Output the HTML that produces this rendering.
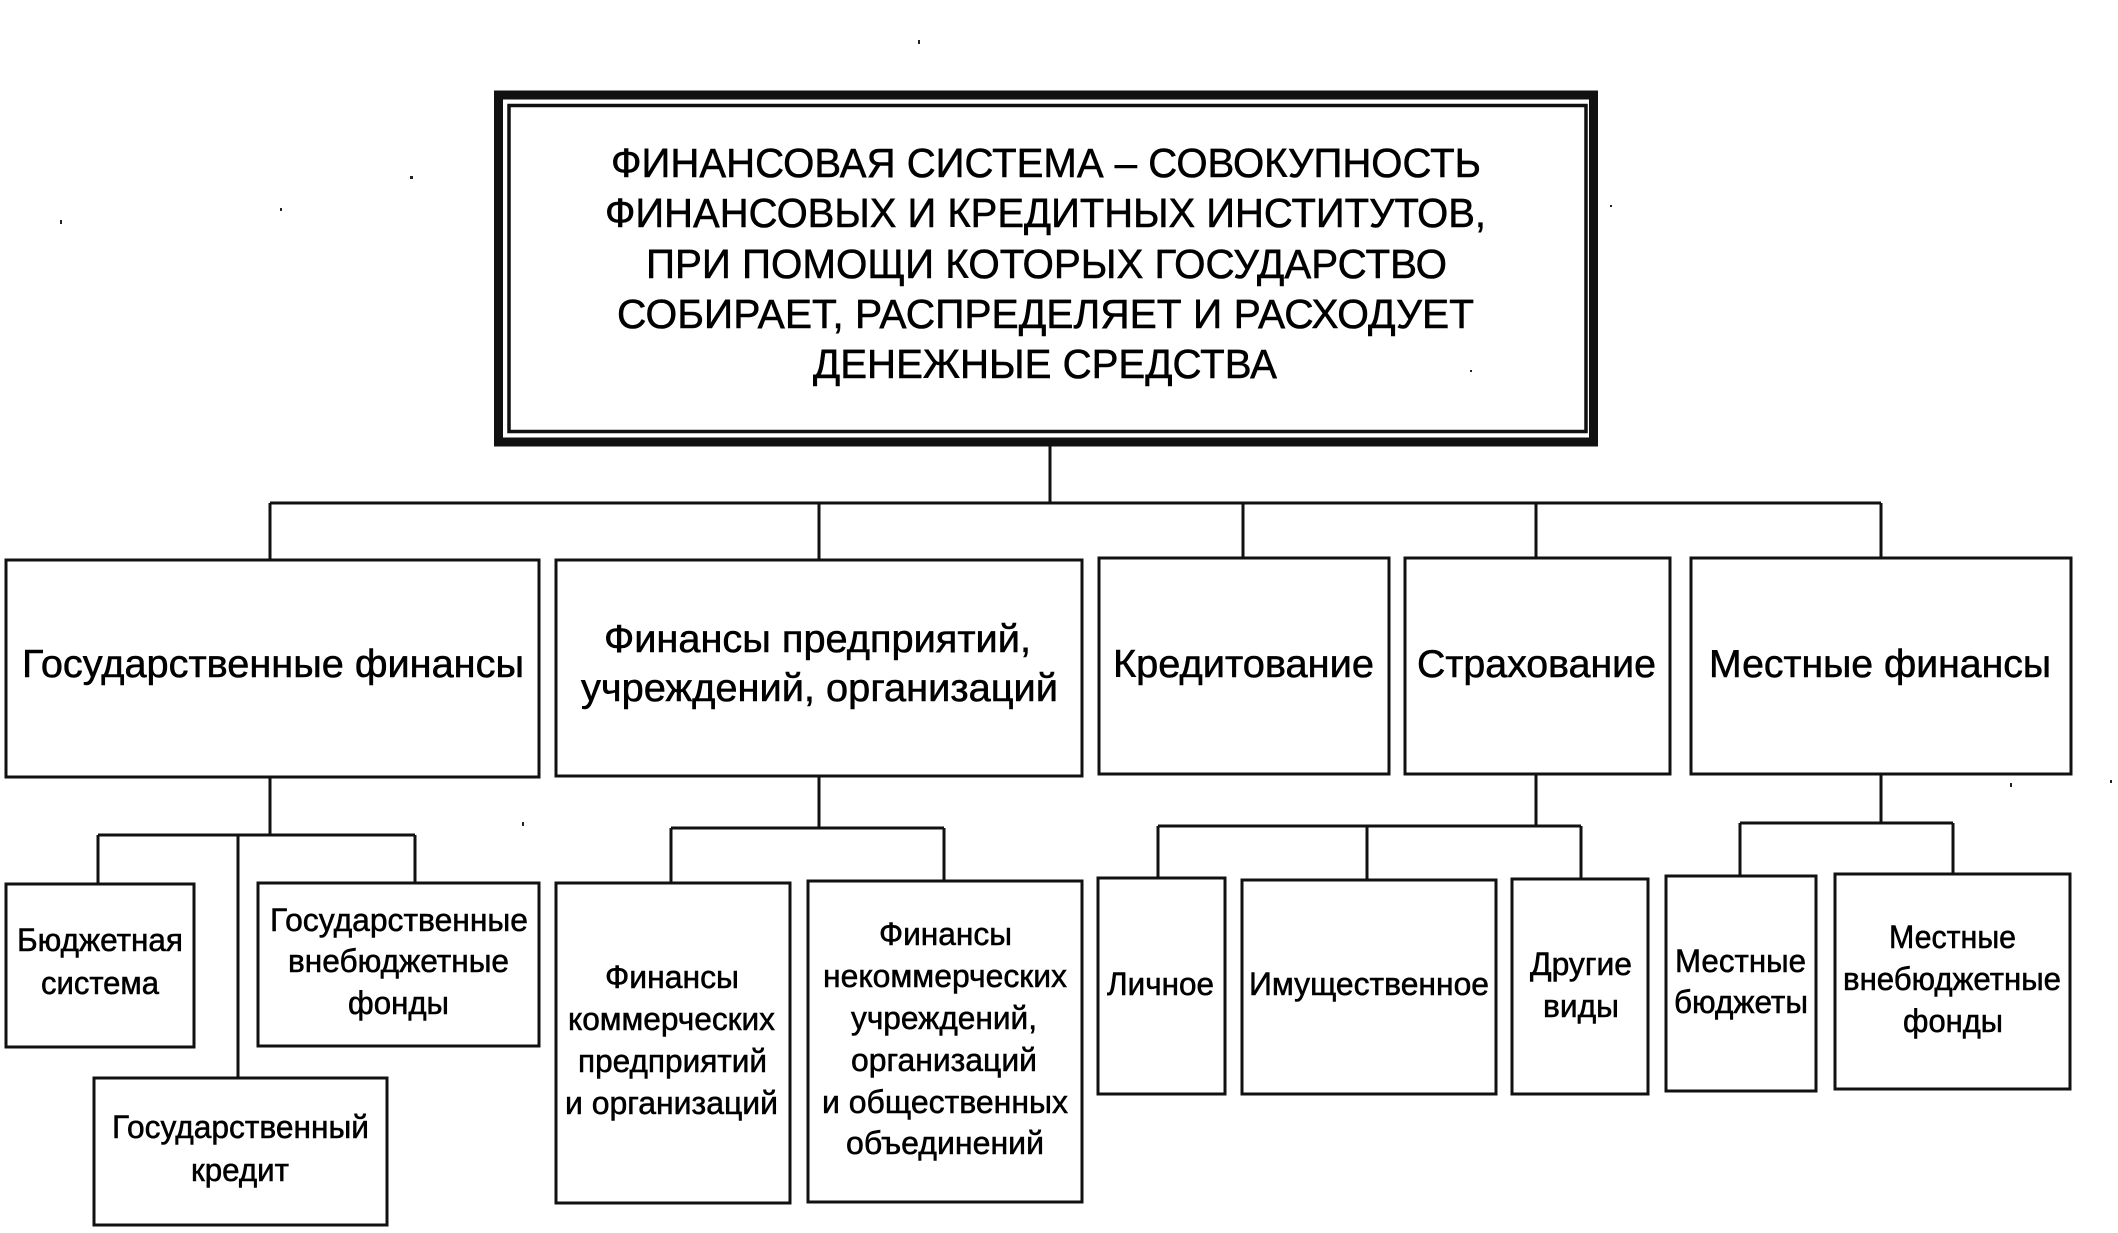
<!DOCTYPE html>
<html lang="ru"><head><meta charset="utf-8"><title>Финансовая система</title>
<style>
html,body{margin:0;padding:0;background:#fff;width:2118px;height:1233px;overflow:hidden}
svg{display:block}
text{font-family:"Liberation Sans",sans-serif;fill:#000;stroke:#000;stroke-width:.55}
.a{font-size:41px}.b{font-size:39px}.c{font-size:32px}
.r{fill:#fff;stroke:#111;stroke-width:3}
.l{fill:none;stroke:#111;stroke-width:3}
</style></head><body>
<svg width="2118" height="1233" viewBox="0 0 2118 1233" xmlns="http://www.w3.org/2000/svg">
<rect x="498.5" y="95" width="1095" height="347" fill="#fff" stroke="#111" stroke-width="9"/>
<rect x="509" y="105.5" width="1077" height="326" fill="#fff" stroke="#111" stroke-width="3.5"/>
<path class="l" d="M1050 446V503M270 503H1881M270 503V559M819 503V559M1243 503V557M1536 503V557M1881 503V557"/>
<path class="l" d="M270 777V835M98 835H415M98 835V883M415 835V882M238 835V1077"/>
<path class="l" d="M819 775V828M671 828H944M671 828V882M944 828V880"/>
<path class="l" d="M1536 774V826M1158 826H1581M1158 826V877M1367 826V879M1581 826V878"/>
<path class="l" d="M1881 774V823M1740 823H1953M1740 823V875M1953 823V873"/>
<g>
<rect class="r" x="6" y="560" width="533" height="217"/>
<rect class="r" x="556" y="560" width="526" height="216"/>
<rect class="r" x="1099" y="558" width="290" height="216"/>
<rect class="r" x="1405" y="558" width="265" height="216"/>
<rect class="r" x="1691" y="558" width="380" height="216"/>
<rect class="r" x="6" y="884" width="188" height="163"/>
<rect class="r" x="258" y="883" width="281" height="163"/>
<rect class="r" x="94" y="1078" width="293" height="147"/>
<rect class="r" x="556" y="883" width="234" height="320"/>
<rect class="r" x="808" y="881" width="274" height="321"/>
<rect class="r" x="1098" y="878" width="127" height="216"/>
<rect class="r" x="1242" y="880" width="254" height="214"/>
<rect class="r" x="1512" y="879" width="136" height="215"/>
<rect class="r" x="1666" y="876" width="150" height="215"/>
<rect class="r" x="1835" y="874" width="235" height="215"/>
</g>
<text class="a" x="611" y="177" textLength="870" lengthAdjust="spacingAndGlyphs">ФИНАНСОВАЯ СИСТЕМА – СОВОКУПНОСТЬ</text>
<text class="a" x="605" y="227" textLength="881" lengthAdjust="spacingAndGlyphs">ФИНАНСОВЫХ И КРЕДИТНЫХ ИНСТИТУТОВ,</text>
<text class="a" x="646" y="278" textLength="801" lengthAdjust="spacingAndGlyphs">ПРИ ПОМОЩИ КОТОРЫХ ГОСУДАРСТВО</text>
<text class="a" x="617" y="328" textLength="857" lengthAdjust="spacingAndGlyphs">СОБИРАЕТ, РАСПРЕДЕЛЯЕТ И РАСХОДУЕТ</text>
<text class="a" x="813" y="378" textLength="464" lengthAdjust="spacingAndGlyphs">ДЕНЕЖНЫЕ СРЕДСТВА</text>
<text class="b" x="22" y="677" textLength="502" lengthAdjust="spacingAndGlyphs">Государственные финансы</text>
<text class="b" x="604" y="652" textLength="427" lengthAdjust="spacingAndGlyphs">Финансы предприятий,</text>
<text class="b" x="581" y="701" textLength="477" lengthAdjust="spacingAndGlyphs">учреждений, организаций</text>
<text class="b" x="1113" y="677" textLength="261" lengthAdjust="spacingAndGlyphs">Кредитование</text>
<text class="b" x="1417" y="677" textLength="239" lengthAdjust="spacingAndGlyphs">Страхование</text>
<text class="b" x="1709" y="677" textLength="342" lengthAdjust="spacingAndGlyphs">Местные финансы</text>
<text class="c" x="17" y="951" textLength="166" lengthAdjust="spacingAndGlyphs">Бюджетная</text>
<text class="c" x="41" y="994" textLength="118" lengthAdjust="spacingAndGlyphs">система</text>
<text class="c" x="270" y="931" textLength="258" lengthAdjust="spacingAndGlyphs">Государственные</text>
<text class="c" x="288" y="972" textLength="221" lengthAdjust="spacingAndGlyphs">внебюджетные</text>
<text class="c" x="348" y="1014" textLength="101" lengthAdjust="spacingAndGlyphs">фонды</text>
<text class="c" x="112" y="1138" textLength="257" lengthAdjust="spacingAndGlyphs">Государственный</text>
<text class="c" x="191" y="1181" textLength="98" lengthAdjust="spacingAndGlyphs">кредит</text>
<text class="c" x="605" y="988" textLength="134" lengthAdjust="spacingAndGlyphs">Финансы</text>
<text class="c" x="568" y="1030" textLength="207" lengthAdjust="spacingAndGlyphs">коммерческих</text>
<text class="c" x="578" y="1072" textLength="189" lengthAdjust="spacingAndGlyphs">предприятий</text>
<text class="c" x="565" y="1114" textLength="213" lengthAdjust="spacingAndGlyphs">и организаций</text>
<text class="c" x="879" y="945" textLength="133" lengthAdjust="spacingAndGlyphs">Финансы</text>
<text class="c" x="823" y="987" textLength="244" lengthAdjust="spacingAndGlyphs">некоммерческих</text>
<text class="c" x="851" y="1029" textLength="186" lengthAdjust="spacingAndGlyphs">учреждений,</text>
<text class="c" x="851" y="1071" textLength="186" lengthAdjust="spacingAndGlyphs">организаций</text>
<text class="c" x="822" y="1113" textLength="246" lengthAdjust="spacingAndGlyphs">и общественных</text>
<text class="c" x="846" y="1154" textLength="198" lengthAdjust="spacingAndGlyphs">объединений</text>
<text class="c" x="1107" y="995" textLength="107" lengthAdjust="spacingAndGlyphs">Личное</text>
<text class="c" x="1249" y="995" textLength="240" lengthAdjust="spacingAndGlyphs">Имущественное</text>
<text class="c" x="1530" y="975" textLength="102" lengthAdjust="spacingAndGlyphs">Другие</text>
<text class="c" x="1543" y="1017" textLength="76" lengthAdjust="spacingAndGlyphs">виды</text>
<text class="c" x="1675" y="972" textLength="131" lengthAdjust="spacingAndGlyphs">Местные</text>
<text class="c" x="1674" y="1013" textLength="134" lengthAdjust="spacingAndGlyphs">бюджеты</text>
<text class="c" x="1889" y="948" textLength="127" lengthAdjust="spacingAndGlyphs">Местные</text>
<text class="c" x="1843" y="990" textLength="218" lengthAdjust="spacingAndGlyphs">внебюджетные</text>
<text class="c" x="1903" y="1032" textLength="100" lengthAdjust="spacingAndGlyphs">фонды</text>
<g fill="#222">
<rect x="918" y="40" width="2" height="4"/><rect x="410" y="176" width="3" height="3"/><rect x="60" y="220" width="2" height="4"/>
<rect x="280" y="208" width="2" height="3"/><rect x="1610" y="205" width="2" height="2"/><rect x="1470" y="370" width="2" height="2"/>
<rect x="2010" y="783" width="2" height="4"/><rect x="522" y="822" width="2" height="4"/><rect x="2110" y="780" width="2" height="3"/>
</g>
</svg>
</body></html>
